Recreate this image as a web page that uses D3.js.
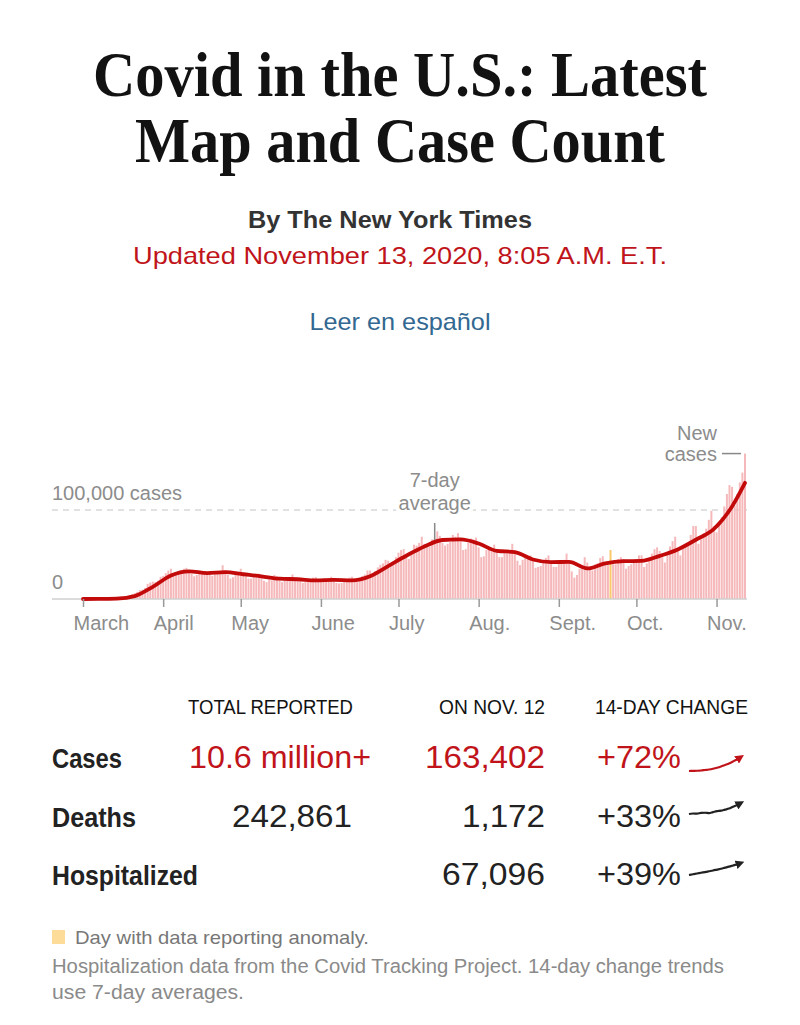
<!DOCTYPE html>
<html>
<head>
<meta charset="utf-8">
<script src="https://cdn.jsdelivr.net/npm/d3@7"></script>
<style>
  body { margin: 0; background: #fff; }
  svg { display: block; }
</style>
</head>
<body>
<div id="chart"></div>
<script>
// daily new cases in thousands, one per day from March 1 to Nov. 12, 2020
const startDay = "2020-03-01";
const dailyCases = [
  0.02, 0.03, 0.05, 0.05, 0.1, 0.1, 0.15,
  0.15, 0.25, 0.3, 0.4, 0.45, 0.6, 0.7,
  0.9, 1.2, 1.7, 2.5, 4.5, 5.5, 6.5,
  8, 10, 10.5, 12.5, 17, 18.5, 19.5,
  19, 20.5, 25, 26, 29, 32, 34,
  26, 29.5, 31, 32, 34, 35, 30.5,
  28, 25.5, 27, 30.5, 31.5, 31.5, 30,
  28, 26, 27.5, 29, 30, 38, 32,
  27, 23, 24.5, 27, 30, 34, 29,
  25, 23, 23, 25, 28, 28.5, 26,
  20.5, 19, 22, 21, 27, 25.5, 24.5,
  19, 21, 21, 21.5, 27.5, 23.5, 22,
  19.5, 18, 19, 19.5, 22, 24, 24.5,
  20, 21, 20, 20.5, 21.5, 25, 22,
  18, 17.5, 18, 21, 22.5, 24, 25,
  19.5, 19, 23, 26, 27.5, 32, 32,
  26.5, 31.5, 35.5, 38.5, 40, 44, 43,
  40, 42, 47, 52, 55, 56, 48,
  45, 52, 61, 60, 63, 70, 62,
  60, 59, 67, 68, 76, 71, 63,
  60, 62, 64, 72, 70, 74, 66,
  55, 56, 63, 68, 67, 69, 58,
  47, 48, 55, 56, 57, 61, 55,
  47, 47, 52, 53, 52, 62, 52,
  43, 38, 44, 46, 46, 49, 45,
  35, 36, 37, 44, 46, 49, 43,
  36, 36, 41, 41, 44, 51, 43,
  31, 24, 27, 34, 37, 47, 41,
  34, 32, 39, 40, 46, 48, 42,
  38, 55, 39, 39, 45, 47, 45,
  34, 37, 39, 44, 45, 49, 49,
  36, 40, 44, 51, 56, 58, 54,
  47, 41, 52, 59, 65, 70, 56,
  49, 58, 61, 62, 72, 82, 82,
  62, 67, 74, 79, 89, 99, 82,
  75, 85, 92, 104, 118, 128, 126,
  105, 118, 131, 142, 163.4
];
const anomalyDays = ["2020-09-21"];

// 7-day average (thousands), read weekly
const avgDates = ["2020-03-01", "2020-03-07", "2020-03-14", "2020-03-21", "2020-03-28",
  "2020-04-04", "2020-04-11", "2020-04-18", "2020-04-25", "2020-05-02", "2020-05-09",
  "2020-05-16", "2020-05-23", "2020-05-30", "2020-06-06", "2020-06-13", "2020-06-20",
  "2020-06-27", "2020-07-04", "2020-07-11", "2020-07-18", "2020-07-25", "2020-08-01",
  "2020-08-08", "2020-08-15", "2020-08-22", "2020-08-29", "2020-09-05", "2020-09-12",
  "2020-09-19", "2020-09-26", "2020-10-03", "2020-10-10", "2020-10-17", "2020-10-24",
  "2020-10-31", "2020-11-07", "2020-11-12"];
const avgValues = [0.02, 0.07, 0.41, 3.26, 13.7, 26.5, 31.1, 29.1, 30.1, 27.8, 25.5,
  22.8, 22.2, 20.9, 21.4, 20.9, 25.6, 37, 48.6, 59, 66.3, 66.9, 62.3, 54.1, 52.7,
  44.4, 41.4, 41.7, 34.4, 40.1, 42.5, 42.8, 48.4, 55.7, 66.6, 78.9, 104, 130.5];

const monthTicks = ["2020-03-01", "2020-04-01", "2020-05-01", "2020-06-01", "2020-07-01",
  "2020-08-01", "2020-09-01", "2020-10-01", "2020-11-01"];
const monthLabels = ["March", "April", "May", "June", "July", "Aug.", "Sept.", "Oct.", "Nov."];

// table
const rowLabels = ["Cases", "Deaths", "Hospitalized"];
const totalReported = ["10.6 million+", "242,861", ""];
const onNov12 = ["163,402", "1,172", "67,096"];
const change14 = ["+72%", "+33%", "+39%"];
// 14-day trend of 7-day averages
const trendCases = [78, 78.5, 79, 80, 82, 84, 87, 91, 96, 102, 108, 116, 124, 134];
const trendDeaths = [800, 812, 808, 826, 830, 822, 845, 868, 880, 905, 930, 975, 1015, 1064];
const trendHosp = [48, 49.2, 50.3, 51.5, 52.6, 53.8, 55, 56.4, 57.8, 59.4, 61, 62.8, 64.6, 66.7];

const RED = "#c0141a";
const serif = "'Liberation Serif', 'DejaVu Serif', serif";
const sans = "'Liberation Sans', Arial, sans-serif";
const narrow = "'Liberation Sans Narrow', 'Liberation Sans', Arial, sans-serif";

const width = 800, height = 1025;
const parse = d3.timeParse("%Y-%m-%d");

const svg = d3.select("#chart").append("svg")
  .attr("width", width)
  .attr("height", height);

function addText(x, y, str, o) {
  const t = svg.append("text")
    .attr("x", x).attr("y", y)
    .attr("font-family", o.font)
    .attr("font-size", o.size)
    .attr("fill", o.color || "#121212")
    .attr("text-anchor", o.anchor || "start")
    .text(str);
  if (o.weight) t.attr("font-weight", o.weight);
  if (o.width) t.attr("textLength", o.width).attr("lengthAdjust", "spacingAndGlyphs");
  return t;
}

// header
addText(400, 96, "Covid in the U.S.: Latest", { font: serif, size: 64, weight: "bold", anchor: "middle", width: 614 });
addText(400, 162, "Map and Case Count", { font: serif, size: 64, weight: "bold", anchor: "middle", width: 530 });
addText(390, 228, "By The New York Times", { font: sans, size: 23, weight: "bold", anchor: "middle", color: "#333", width: 284 });
addText(400, 264, "Updated November 13, 2020, 8:05 A.M. E.T.", { font: sans, size: 24, anchor: "middle", color: RED, width: 534 });
addText(400, 330, "Leer en español", { font: sans, size: 24, anchor: "middle", color: "#326891", width: 181 });

// chart
const start = parse(startDay);
const days = dailyCases.map((v, i) => ({ date: d3.timeDay.offset(start, i), value: v }));
const anomalies = new Set(anomalyDays);
const fmt = d3.timeFormat("%Y-%m-%d");

const x = d3.scaleTime()
  .domain([start, days[days.length - 1].date])
  .range([83, 745]);
const y = d3.scaleLinear()
  .domain([0, 100])
  .range([599, 510]);

const chart = svg.append("g");

chart.append("line")
  .attr("x1", 52).attr("x2", 747)
  .attr("y1", y(100)).attr("y2", y(100))
  .attr("stroke", "#c4c4c4")
  .attr("stroke-width", 1.2)
  .attr("stroke-dasharray", "6,5");

const bw = 2;
chart.selectAll(".bar")
  .data(days)
  .enter()
  .append("rect")
  .attr("class", "bar")
  .attr("x", d => x(d.date) - bw / 2)
  .attr("y", d => y(d.value))
  .attr("width", bw)
  .attr("height", d => y(0) - y(d.value))
  .attr("fill", d => anomalies.has(fmt(d.date)) ? "#f9c86a" : "#f6b9bb");

chart.append("line")
  .attr("x1", 52).attr("x2", 747)
  .attr("y1", y(0)).attr("y2", y(0))
  .attr("stroke", "#cfcfcf")
  .attr("stroke-width", 1.5);

const avg = avgDates.map((d, i) => ({ date: parse(d), value: avgValues[i] }));
const line = d3.line()
  .x(d => x(d.date))
  .y(d => y(d.value))
  .curve(d3.curveMonotoneX);

chart.append("path")
  .datum(avg)
  .attr("d", line)
  .attr("fill", "none")
  .attr("stroke", "#c20a0a")
  .attr("stroke-width", 3.8)
  .attr("stroke-linejoin", "round")
  .attr("stroke-linecap", "round");

const axis = d3.axisBottom(x)
  .tickValues(monthTicks.map(parse))
  .tickSize(8)
  .tickFormat((d, i) => monthLabels[i]);

const ax = chart.append("g")
  .attr("transform", `translate(0,${y(0)})`)
  .call(axis);
ax.select(".domain").remove();
ax.selectAll(".tick line").attr("stroke", "#999").attr("stroke-width", 1.5);
ax.selectAll(".tick text")
  .attr("y", 31).attr("dy", 0).attr("dx", -10)
  .attr("text-anchor", "start")
  .attr("font-family", sans)
  .attr("font-size", 20)
  .attr("fill", "#8c8c8c");

const gray = "#8c8c8c";
addText(52, 500, "100,000 cases", { font: sans, size: 20, color: gray });
addText(52, 589, "0", { font: sans, size: 20, color: gray });

// 7-day average note
const noteX = x(parse("2020-07-15"));
addText(noteX, 487, "7-day", { font: sans, size: 20, color: gray, anchor: "middle" });
addText(noteX, 510, "average", { font: sans, size: 20, color: gray, anchor: "middle" })
  .attr("stroke", "#fff").attr("stroke-width", 8).attr("paint-order", "stroke");
chart.append("line")
  .attr("x1", noteX).attr("x2", noteX)
  .attr("y1", 523).attr("y2", 540)
  .attr("stroke", "#888").attr("stroke-width", 1.5);

// new cases note
const last = days[days.length - 1];
addText(717, 440, "New", { font: sans, size: 20, color: gray, anchor: "end" });
addText(717, 461, "cases", { font: sans, size: 20, color: gray, anchor: "end" });
chart.append("line")
  .attr("x1", x(last.date) - 23).attr("x2", x(last.date) - 4)
  .attr("y1", y(last.value)).attr("y2", y(last.value))
  .attr("stroke", "#888").attr("stroke-width", 1.5);

// table
addText(188, 714, "TOTAL REPORTED", { font: narrow, size: 21, width: 165 });
addText(545, 714, "ON NOV. 12", { font: narrow, size: 21, anchor: "end", width: 106 });
addText(595, 714, "14-DAY CHANGE", { font: narrow, size: 21, width: 153 });

const rowY = [768, 827, 885];
const labelW = [70, 84, 146];
const totalW = [182, 120, 0];
const novW = [120, 83, 103];

rowLabels.forEach((r, i) => {
  const c = i === 0 ? RED : "#222";
  addText(52, rowY[i], r, { font: narrow, size: 27, weight: "bold", color: "#222", width: labelW[i] });
  if (totalReported[i]) {
    if (i === 0) addText(189, rowY[i], totalReported[i], { font: sans, size: 31, color: c, width: totalW[i] });
    else addText(352, rowY[i], totalReported[i], { font: sans, size: 31, color: c, anchor: "end", width: totalW[i] });
  }
  addText(545, rowY[i], onNov12[i], { font: sans, size: 31, color: c, anchor: "end", width: novW[i] });
  addText(597, rowY[i], change14[i], { font: sans, size: 31, color: c, width: 84 });
});

// sparklines
const defs = svg.append("defs");
[["arrRed", RED], ["arrDark", "#222"]].forEach(([id, col]) => {
  defs.append("marker")
    .attr("id", id)
    .attr("viewBox", "0 0 10 10")
    .attr("refX", 6).attr("refY", 5)
    .attr("markerWidth", 4).attr("markerHeight", 4)
    .attr("markerUnits", "strokeWidth")
    .attr("orient", "auto")
    .append("path")
    .attr("d", "M0,0 L10,5 L0,10 z")
    .attr("fill", col);
});

const sparks = [
  { data: trendCases, y0: 771, y1: 757, color: RED, marker: "arrRed" },
  { data: trendDeaths, y0: 814, y1: 803, color: "#222", marker: "arrDark" },
  { data: trendHosp, y0: 875, y1: 863, color: "#222", marker: "arrDark" }
];
sparks.forEach(s => {
  const sx = d3.scaleLinear().domain([0, s.data.length - 1]).range([689, 741]);
  const sy = d3.scaleLinear().domain(d3.extent(s.data)).range([s.y0, s.y1]);
  svg.append("path")
    .datum(s.data)
    .attr("d", d3.line().x((d, i) => sx(i)).y(d => sy(d)).curve(d3.curveMonotoneX))
    .attr("fill", "none")
    .attr("stroke", s.color)
    .attr("stroke-width", 2.2)
    .attr("marker-end", `url(#${s.marker})`);
});

// footer
svg.append("rect")
  .attr("x", 52).attr("y", 930)
  .attr("width", 13).attr("height", 14)
  .attr("fill", "#fddc9a");
addText(75, 944, "Day with data reporting anomaly.", { font: narrow, size: 19, color: "#777", width: 294 });
addText(52, 973, "Hospitalization data from the Covid Tracking Project. 14-day change trends", { font: narrow, size: 20, color: "#8a8a8a", width: 672 });
addText(52, 999, "use 7-day averages.", { font: narrow, size: 20, color: "#8a8a8a", width: 192 });
</script>
</body>
</html>
